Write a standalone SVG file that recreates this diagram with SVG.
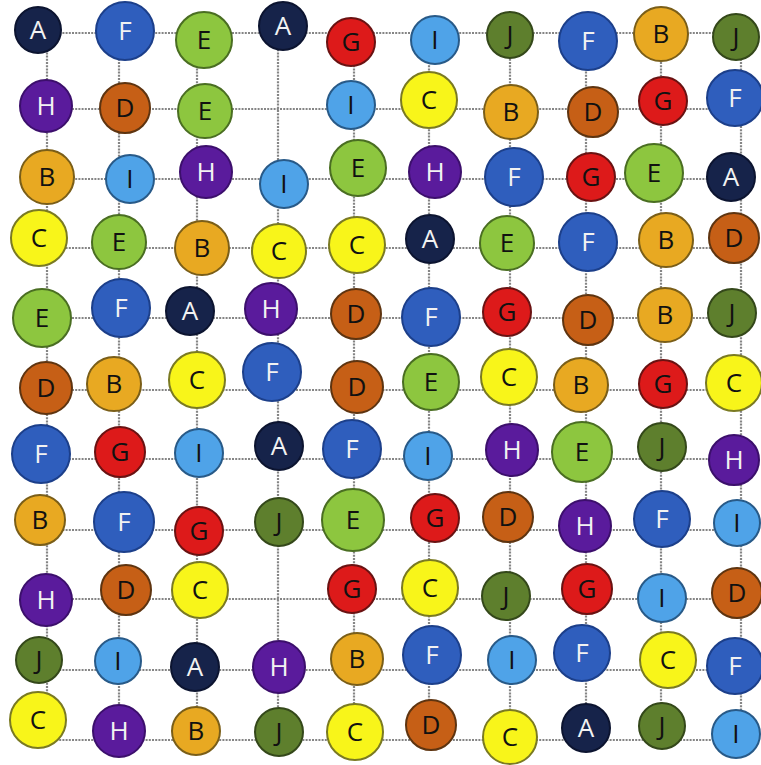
<svg xmlns="http://www.w3.org/2000/svg" width="761" height="765" viewBox="0 0 761 765">
<style>
.g line{stroke:#858585;stroke-width:2.2;stroke-dasharray:2 1.2}
circle{stroke-width:2}
text{font-family:"Open Sans","Noto Sans",sans-serif;font-size:26px;text-anchor:middle}
.A circle{fill:#16234a;stroke:#0c1430}.A text{fill:#f2f2f2}
.F circle{fill:#2f5ebd;stroke:#1c3f8a}.F text{fill:#f2f2f2}
.H circle{fill:#5a1b9c;stroke:#3c0f6c}.H text{fill:#f2f2f2}
.E circle{fill:#8dc63f;stroke:#4a6e22}.E text{fill:#111}
.B circle{fill:#e8a922;stroke:#7a5e18}.B text{fill:#111}
.C circle{fill:#f8f51a;stroke:#7a7a22}.C text{fill:#111}
.D circle{fill:#c65f16;stroke:#5e3410}.D text{fill:#111}
.G circle{fill:#dd1a1a;stroke:#6a1212}.G text{fill:#111}
.I circle{fill:#4fa3e8;stroke:#285a88}.I text{fill:#111}
.J circle{fill:#5e7f2d;stroke:#34481a}.J text{fill:#111}
</style>
<g id="connectors" class="g">
<line x1="40" y1="33" x2="745" y2="33"/><line x1="40" y1="109" x2="745" y2="109"/><line x1="40" y1="179" x2="745" y2="179"/><line x1="40" y1="248" x2="745" y2="248"/><line x1="40" y1="318" x2="745" y2="318"/><line x1="40" y1="390" x2="745" y2="390"/><line x1="40" y1="459" x2="745" y2="459"/><line x1="40" y1="530" x2="745" y2="530"/><line x1="40" y1="599" x2="745" y2="599"/><line x1="40" y1="670" x2="745" y2="670"/><line x1="40" y1="740" x2="745" y2="740"/>
<line x1="47" y1="30" x2="47" y2="740"/><line x1="119" y1="30" x2="119" y2="740"/><line x1="197" y1="30" x2="197" y2="740"/><line x1="278" y1="30" x2="278" y2="740"/><line x1="354" y1="30" x2="354" y2="740"/><line x1="429" y1="30" x2="429" y2="740"/><line x1="510" y1="30" x2="510" y2="740"/><line x1="586" y1="30" x2="586" y2="740"/><line x1="661" y1="30" x2="661" y2="740"/><line x1="741" y1="30" x2="741" y2="740"/>
</g>
<g id="n0_0" class="A"><circle cx="38" cy="30" r="23"/><text x="38" y="39">A</text></g>
<g id="n0_1" class="F"><circle cx="125" cy="31" r="29"/><text x="125" y="40">F</text></g>
<g id="n0_2" class="E"><circle cx="204" cy="40" r="28"/><text x="204" y="49">E</text></g>
<g id="n0_3" class="A"><circle cx="283" cy="26" r="24"/><text x="283" y="35">A</text></g>
<g id="n0_4" class="G"><circle cx="351" cy="42" r="24"/><text x="351" y="51">G</text></g>
<g id="n0_5" class="I"><circle cx="435" cy="40" r="24"/><text x="435" y="49">I</text></g>
<g id="n0_6" class="J"><circle cx="510" cy="35" r="23"/><text x="510" y="44">J</text></g>
<g id="n0_7" class="F"><circle cx="588" cy="41" r="29"/><text x="588" y="50">F</text></g>
<g id="n0_8" class="B"><circle cx="661" cy="34" r="27"/><text x="661" y="43">B</text></g>
<g id="n0_9" class="J"><circle cx="736" cy="37" r="23"/><text x="736" y="46">J</text></g>

<g id="n1_0" class="H"><circle cx="46" cy="106" r="26"/><text x="46" y="115">H</text></g>
<g id="n1_1" class="D"><circle cx="125" cy="108" r="25"/><text x="125" y="117">D</text></g>
<g id="n1_2" class="E"><circle cx="205" cy="111" r="27"/><text x="205" y="120">E</text></g>
<g id="n1_4" class="I"><circle cx="351" cy="105" r="24"/><text x="351" y="114">I</text></g>
<g id="n1_5" class="C"><circle cx="429" cy="100" r="28"/><text x="429" y="109">C</text></g>
<g id="n1_6" class="B"><circle cx="511" cy="112" r="27"/><text x="511" y="121">B</text></g>
<g id="n1_7" class="D"><circle cx="593" cy="112" r="25"/><text x="593" y="121">D</text></g>
<g id="n1_8" class="G"><circle cx="663" cy="101" r="24"/><text x="663" y="110">G</text></g>
<g id="n1_9" class="F"><circle cx="735" cy="98" r="28"/><text x="735" y="107">F</text></g>

<g id="n2_0" class="B"><circle cx="47" cy="177" r="27"/><text x="47" y="186">B</text></g>
<g id="n2_1" class="I"><circle cx="130" cy="179" r="24"/><text x="130" y="188">I</text></g>
<g id="n2_2" class="H"><circle cx="206" cy="172" r="26"/><text x="206" y="181">H</text></g>
<g id="n2_3" class="I"><circle cx="284" cy="184" r="24"/><text x="284" y="193">I</text></g>
<g id="n2_4" class="E"><circle cx="358" cy="168" r="28"/><text x="358" y="177">E</text></g>
<g id="n2_5" class="H"><circle cx="435" cy="172" r="26"/><text x="435" y="181">H</text></g>
<g id="n2_6" class="F"><circle cx="514" cy="177" r="29"/><text x="514" y="186">F</text></g>
<g id="n2_7" class="G"><circle cx="591" cy="177" r="24"/><text x="591" y="186">G</text></g>
<g id="n2_8" class="E"><circle cx="654" cy="173" r="29"/><text x="654" y="182">E</text></g>
<g id="n2_9" class="A"><circle cx="731" cy="177" r="24"/><text x="731" y="186">A</text></g>

<g id="n3_0" class="C"><circle cx="39" cy="238" r="28"/><text x="39" y="247">C</text></g>
<g id="n3_1" class="E"><circle cx="119" cy="242" r="27"/><text x="119" y="251">E</text></g>
<g id="n3_2" class="B"><circle cx="202" cy="248" r="27"/><text x="202" y="257">B</text></g>
<g id="n3_3" class="C"><circle cx="279" cy="251" r="27"/><text x="279" y="260">C</text></g>
<g id="n3_4" class="C"><circle cx="357" cy="245" r="28"/><text x="357" y="254">C</text></g>
<g id="n3_5" class="A"><circle cx="430" cy="239" r="24"/><text x="430" y="248">A</text></g>
<g id="n3_6" class="E"><circle cx="507" cy="243" r="27"/><text x="507" y="252">E</text></g>
<g id="n3_7" class="F"><circle cx="588" cy="242" r="29"/><text x="588" y="251">F</text></g>
<g id="n3_8" class="B"><circle cx="666" cy="240" r="27"/><text x="666" y="249">B</text></g>
<g id="n3_9" class="D"><circle cx="734" cy="238" r="25"/><text x="734" y="247">D</text></g>

<g id="n4_0" class="E"><circle cx="42" cy="318" r="29"/><text x="42" y="327">E</text></g>
<g id="n4_1" class="F"><circle cx="121" cy="308" r="29"/><text x="121" y="317">F</text></g>
<g id="n4_2" class="A"><circle cx="190" cy="311" r="24"/><text x="190" y="320">A</text></g>
<g id="n4_3" class="H"><circle cx="271" cy="309" r="26"/><text x="271" y="318">H</text></g>
<g id="n4_4" class="D"><circle cx="356" cy="314" r="25"/><text x="356" y="323">D</text></g>
<g id="n4_5" class="F"><circle cx="431" cy="317" r="29"/><text x="431" y="326">F</text></g>
<g id="n4_6" class="G"><circle cx="507" cy="312" r="24"/><text x="507" y="321">G</text></g>
<g id="n4_7" class="D"><circle cx="588" cy="320" r="25"/><text x="588" y="329">D</text></g>
<g id="n4_8" class="B"><circle cx="665" cy="315" r="27"/><text x="665" y="324">B</text></g>
<g id="n4_9" class="J"><circle cx="732" cy="313" r="24"/><text x="732" y="322">J</text></g>

<g id="n5_0" class="D"><circle cx="46" cy="388" r="26"/><text x="46" y="397">D</text></g>
<g id="n5_1" class="B"><circle cx="114" cy="384" r="27"/><text x="114" y="393">B</text></g>
<g id="n5_2" class="C"><circle cx="197" cy="380" r="28"/><text x="197" y="389">C</text></g>
<g id="n5_3" class="F"><circle cx="272" cy="372" r="29"/><text x="272" y="381">F</text></g>
<g id="n5_4" class="D"><circle cx="357" cy="387" r="26"/><text x="357" y="396">D</text></g>
<g id="n5_5" class="E"><circle cx="431" cy="382" r="28"/><text x="431" y="391">E</text></g>
<g id="n5_6" class="C"><circle cx="509" cy="377" r="28"/><text x="509" y="386">C</text></g>
<g id="n5_7" class="B"><circle cx="581" cy="385" r="27"/><text x="581" y="394">B</text></g>
<g id="n5_8" class="G"><circle cx="663" cy="384" r="24"/><text x="663" y="393">G</text></g>
<g id="n5_9" class="C"><circle cx="734" cy="383" r="28"/><text x="734" y="392">C</text></g>

<g id="n6_0" class="F"><circle cx="41" cy="454" r="29"/><text x="41" y="463">F</text></g>
<g id="n6_1" class="G"><circle cx="120" cy="452" r="25"/><text x="120" y="461">G</text></g>
<g id="n6_2" class="I"><circle cx="199" cy="453" r="24"/><text x="199" y="462">I</text></g>
<g id="n6_3" class="A"><circle cx="279" cy="446" r="24"/><text x="279" y="455">A</text></g>
<g id="n6_4" class="F"><circle cx="352" cy="449" r="29"/><text x="352" y="458">F</text></g>
<g id="n6_5" class="I"><circle cx="428" cy="456" r="24"/><text x="428" y="465">I</text></g>
<g id="n6_6" class="H"><circle cx="512" cy="450" r="26"/><text x="512" y="459">H</text></g>
<g id="n6_7" class="E"><circle cx="582" cy="452" r="30"/><text x="582" y="461">E</text></g>
<g id="n6_8" class="J"><circle cx="662" cy="447" r="24"/><text x="662" y="456">J</text></g>
<g id="n6_9" class="H"><circle cx="734" cy="460" r="25"/><text x="734" y="469">H</text></g>

<g id="n7_0" class="B"><circle cx="40" cy="520" r="25"/><text x="40" y="529">B</text></g>
<g id="n7_1" class="F"><circle cx="124" cy="522" r="30"/><text x="124" y="531">F</text></g>
<g id="n7_2" class="G"><circle cx="199" cy="531" r="24"/><text x="199" y="540">G</text></g>
<g id="n7_3" class="J"><circle cx="279" cy="522" r="24"/><text x="279" y="531">J</text></g>
<g id="n7_4" class="E"><circle cx="353" cy="520" r="31"/><text x="353" y="529">E</text></g>
<g id="n7_5" class="G"><circle cx="435" cy="518" r="24"/><text x="435" y="527">G</text></g>
<g id="n7_6" class="D"><circle cx="508" cy="517" r="25"/><text x="508" y="526">D</text></g>
<g id="n7_7" class="H"><circle cx="585" cy="526" r="26"/><text x="585" y="535">H</text></g>
<g id="n7_8" class="F"><circle cx="662" cy="519" r="28"/><text x="662" y="528">F</text></g>
<g id="n7_9" class="I"><circle cx="737" cy="523" r="23"/><text x="737" y="532">I</text></g>

<g id="n8_0" class="H"><circle cx="46" cy="600" r="26"/><text x="46" y="609">H</text></g>
<g id="n8_1" class="D"><circle cx="126" cy="590" r="25"/><text x="126" y="599">D</text></g>
<g id="n8_2" class="C"><circle cx="200" cy="590" r="28"/><text x="200" y="599">C</text></g>
<g id="n8_4" class="G"><circle cx="352" cy="589" r="24"/><text x="352" y="598">G</text></g>
<g id="n8_5" class="C"><circle cx="430" cy="588" r="28"/><text x="430" y="597">C</text></g>
<g id="n8_6" class="J"><circle cx="506" cy="596" r="24"/><text x="506" y="605">J</text></g>
<g id="n8_7" class="G"><circle cx="587" cy="589" r="25"/><text x="587" y="598">G</text></g>
<g id="n8_8" class="I"><circle cx="662" cy="598" r="24"/><text x="662" y="607">I</text></g>
<g id="n8_9" class="D"><circle cx="737" cy="593" r="25"/><text x="737" y="602">D</text></g>

<g id="n9_0" class="J"><circle cx="39" cy="660" r="23"/><text x="39" y="669">J</text></g>
<g id="n9_1" class="I"><circle cx="118" cy="661" r="23"/><text x="118" y="670">I</text></g>
<g id="n9_2" class="A"><circle cx="195" cy="667" r="24"/><text x="195" y="676">A</text></g>
<g id="n9_3" class="H"><circle cx="279" cy="667" r="26"/><text x="279" y="676">H</text></g>
<g id="n9_4" class="B"><circle cx="357" cy="659" r="26"/><text x="357" y="668">B</text></g>
<g id="n9_5" class="F"><circle cx="432" cy="655" r="29"/><text x="432" y="664">F</text></g>
<g id="n9_6" class="I"><circle cx="512" cy="660" r="24"/><text x="512" y="669">I</text></g>
<g id="n9_7" class="F"><circle cx="582" cy="653" r="28"/><text x="582" y="662">F</text></g>
<g id="n9_8" class="C"><circle cx="668" cy="660" r="28"/><text x="668" y="669">C</text></g>
<g id="n9_9" class="F"><circle cx="735" cy="666" r="28"/><text x="735" y="675">F</text></g>

<g id="n10_0" class="C"><circle cx="38" cy="720" r="28"/><text x="38" y="729">C</text></g>
<g id="n10_1" class="H"><circle cx="119" cy="731" r="26"/><text x="119" y="740">H</text></g>
<g id="n10_2" class="B"><circle cx="196" cy="731" r="24"/><text x="196" y="740">B</text></g>
<g id="n10_3" class="J"><circle cx="279" cy="732" r="24"/><text x="279" y="741">J</text></g>
<g id="n10_4" class="C"><circle cx="355" cy="732" r="28"/><text x="355" y="741">C</text></g>
<g id="n10_5" class="D"><circle cx="431" cy="725" r="25"/><text x="431" y="734">D</text></g>
<g id="n10_6" class="C"><circle cx="510" cy="737" r="27"/><text x="510" y="746">C</text></g>
<g id="n10_7" class="A"><circle cx="586" cy="728" r="24"/><text x="586" y="737">A</text></g>
<g id="n10_8" class="J"><circle cx="662" cy="726" r="23"/><text x="662" y="735">J</text></g>
<g id="n10_9" class="I"><circle cx="736" cy="734" r="24"/><text x="736" y="743">I</text></g>
</svg>
